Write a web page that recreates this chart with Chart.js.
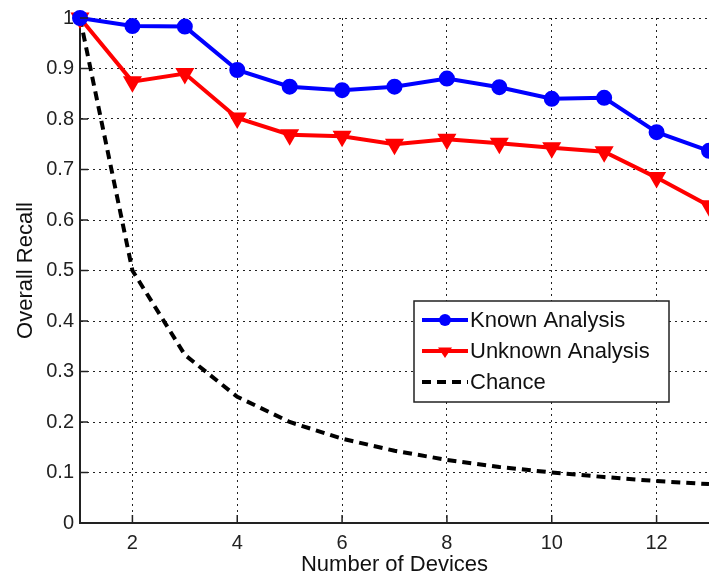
<!DOCTYPE html>
<html>
<head>
<meta charset="utf-8">
<script src="https://cdn.jsdelivr.net/npm/chart.js@4/dist/chart.umd.min.js"></script>
<style>
  html, body { margin: 0; padding: 0; background: #fff; }
  #wrap { width: 709px; height: 578px; position: relative; }
</style>
</head>
<body>
<div id="wrap"><canvas id="c" width="709" height="578"></canvas></div>
<script>
const devices = [1, 2, 3, 4, 5, 6, 7, 8, 9, 10, 11, 12, 13];
const knownAnalysis = [1.0, 0.984, 0.983, 0.897, 0.864, 0.857, 0.864, 0.880, 0.863, 0.840, 0.842, 0.774, 0.737];
const unknownAnalysis = [1.0, 0.874, 0.890, 0.802, 0.769, 0.766, 0.750, 0.760, 0.752, 0.743, 0.735, 0.684, 0.628];
const chance = [1.0, 0.5, 0.333, 0.25, 0.2, 0.167, 0.143, 0.125, 0.111, 0.1, 0.091, 0.083, 0.077];
const seriesLabels = ['Known Analysis', 'Unknown Analysis', 'Chance'];
const xTicks = [2, 4, 6, 8, 10, 12];
const yTicks = [0, 0.1, 0.2, 0.3, 0.4, 0.5, 0.6, 0.7, 0.8, 0.9, 1];
const xTitle = 'Number of Devices';
const yTitle = 'Overall Recall';

const FONT = "'Liberation Sans', Arial, Helvetica, sans-serif";
const toPts = arr => devices.map((d, i) => ({ x: d, y: arr[i] }));

const innerTicks = {
  id: 'innerTicks',
  afterDatasetsDraw(chart) {
    const ctx = chart.ctx, a = chart.chartArea;
    const xs = chart.scales.x, ys = chart.scales.y;
    ctx.save();
    ctx.strokeStyle = '#222';
    ctx.lineWidth = 1.5;
    ctx.beginPath();
    xTicks.forEach(v => {
      const px = xs.getPixelForValue(v);
      ctx.moveTo(px, a.bottom); ctx.lineTo(px, a.bottom - 8);
    });
    yTicks.forEach(v => {
      const py = ys.getPixelForValue(v);
      ctx.moveTo(a.left, py); ctx.lineTo(a.left + 8, py);
    });
    ctx.stroke();
    ctx.restore();
  }
};

const boxLegend = {
  id: 'boxLegend',
  afterDraw(chart) {
    const ctx = chart.ctx;
    const bx = 414, by = 301, bw = 255, bh = 101;
    ctx.save();
    ctx.fillStyle = '#fff';
    ctx.fillRect(bx, by, bw, bh);
    ctx.strokeStyle = '#222';
    ctx.lineWidth = 1.5;
    ctx.strokeRect(bx, by, bw, bh);
    chart.data.datasets.forEach((ds, i) => {
      const y = by + 19 + i * 31;
      const x0 = bx + 8, x1 = bx + 54;
      ctx.save();
      ctx.strokeStyle = ds.borderColor;
      ctx.lineWidth = ds.borderWidth;
      ctx.setLineDash(ds.borderDash || []);
      ctx.beginPath();
      ctx.moveTo(x0, y); ctx.lineTo(x1, y);
      ctx.stroke();
      ctx.restore();
      if (ds.pointRadius > 0) {
        const r = ds.pointRadius, cx = (x0 + x1) / 2;
        ctx.fillStyle = ds.pointBackgroundColor;
        ctx.beginPath();
        if (ds.pointStyle === 'circle') {
          ctx.arc(cx, y, r, 0, Math.PI * 2);
        } else {
          ctx.moveTo(cx - r, y - r * 0.5);
          ctx.lineTo(cx + r, y - r * 0.5);
          ctx.lineTo(cx, y + r);
          ctx.closePath();
        }
        ctx.fill();
      }
      ctx.fillStyle = '#111';
      ctx.font = '22px ' + FONT;
      ctx.textBaseline = 'middle';
      ctx.textAlign = 'left';
      ctx.fillText(ds.label, x1 + 2, y + 1);
    });
    ctx.restore();
  }
};

new Chart(document.getElementById('c'), {
  type: 'line',
  data: {
    datasets: [
      {
        label: seriesLabels[0],
        data: toPts(knownAnalysis),
        borderColor: '#0000ff',
        backgroundColor: '#0000ff',
        borderWidth: 4,
        pointStyle: 'circle',
        pointRadius: 6,
        pointBackgroundColor: '#0000ff',
        pointBorderColor: '#0000ff',
        tension: 0,
        clip: false
      },
      {
        label: seriesLabels[1],
        data: toPts(unknownAnalysis),
        borderColor: '#ff0000',
        backgroundColor: '#ff0000',
        borderWidth: 4,
        pointStyle: 'triangle',
        pointRotation: 180,
        pointRadius: 7,
        pointBackgroundColor: '#ff0000',
        pointBorderColor: '#ff0000',
        tension: 0,
        clip: false
      },
      {
        label: seriesLabels[2],
        data: toPts(chance),
        borderColor: '#000000',
        backgroundColor: '#000000',
        borderWidth: 4,
        borderDash: [9, 6],
        pointRadius: 0,
        tension: 0,
        clip: false
      }
    ]
  },
  options: {
    responsive: false,
    animation: false,
    devicePixelRatio: 1,
    layout: { autoPadding: false, padding: { top: 18, right: 0, left: 0, bottom: 0 } },
    plugins: {
      legend: { display: false },
      tooltip: { enabled: false }
    },
    scales: {
      x: {
        type: 'linear',
        min: 1,
        max: 13,
        afterBuildTicks: s => { s.ticks = xTicks.map(v => ({ value: v })); },
        afterFit: s => { s.height = 55; s.paddingLeft = 0; s.paddingRight = 0; },
        ticks: {
          color: '#222',
          font: { family: FONT, size: 20 },
          padding: 8,
          maxRotation: 0,
          autoSkip: false
        },
        grid: {
          color: '#222',
          lineWidth: 1,
          drawTicks: false,
          tickLength: 0
        },
        border: { display: true, color: '#222', width: 2, dash: [2, 4] },
        title: {
          display: true,
          text: xTitle,
          color: '#111',
          font: { family: FONT, size: 22 },
          padding: { top: -4, bottom: 0 }
        }
      },
      y: {
        type: 'linear',
        min: 0,
        max: 1,
        afterBuildTicks: s => { s.ticks = yTicks.map(v => ({ value: v })); },
        afterFit: s => { s.width = 80; },
        ticks: {
          color: '#222',
          font: { family: FONT, size: 20 },
          padding: 6,
          callback: v => String(v)
        },
        grid: {
          color: '#222',
          lineWidth: 1,
          drawTicks: false,
          tickLength: 0
        },
        border: { display: true, color: '#222', width: 2, dash: [2, 4] },
        title: {
          display: true,
          text: yTitle,
          color: '#111',
          font: { family: FONT, size: 22 },
          padding: { top: 13, bottom: 0 }
        }
      }
    }
  },
  plugins: [innerTicks, boxLegend]
});
</script>
</body>
</html>
